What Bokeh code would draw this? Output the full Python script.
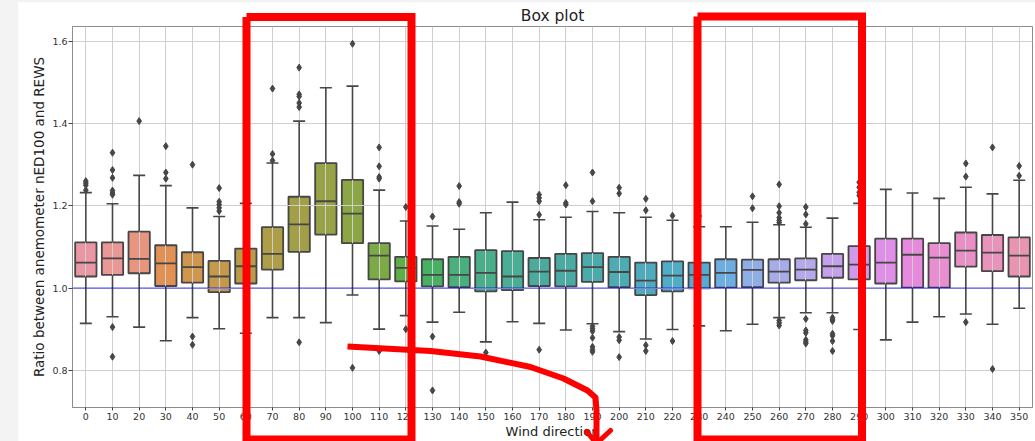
import math
import colorsys
from bokeh.plotting import figure
from bokeh.models import Range1d, FixedTicker, Span, ColumnDataSource
from bokeh.embed import file_html
from bokeh.resources import INLINE

# ---------------- data ----------------
directions = [0, 10, 20, 30, 40, 50, 60, 70, 80, 90, 100, 110, 120, 130, 140, 150, 160, 170,
              180, 190, 200, 210, 220, 230, 240, 250, 260, 270, 280, 290, 300, 310, 320, 330, 340, 350]
q1 = [1.028, 1.032, 1.036, 1.005, 1.013, 0.990, 1.011, 1.045, 1.088, 1.130, 1.109, 1.021,
      1.016, 1.004, 1.002, 0.992, 0.995, 1.005, 1.004, 1.015, 1.002, 0.983, 0.992, 0.999,
      1.001, 1.002, 1.013, 1.019, 1.025, 1.021, 1.011, 1.001, 1.001, 1.052, 1.041, 1.028]
median = [1.062, 1.072, 1.071, 1.060, 1.051, 1.028, 1.053, 1.083, 1.155, 1.211, 1.181, 1.079,
          1.049, 1.032, 1.032, 1.037, 1.028, 1.040, 1.042, 1.051, 1.039, 1.018, 1.030, 1.032,
          1.037, 1.044, 1.040, 1.045, 1.053, 1.057, 1.062, 1.081, 1.074, 1.091, 1.086, 1.079]
q3 = [1.111, 1.111, 1.137, 1.104, 1.087, 1.066, 1.096, 1.148, 1.222, 1.304, 1.263, 1.109,
      1.076, 1.070, 1.076, 1.092, 1.090, 1.073, 1.083, 1.085, 1.076, 1.062, 1.065, 1.062,
      1.070, 1.069, 1.070, 1.072, 1.083, 1.102, 1.120, 1.120, 1.109, 1.135, 1.129, 1.123]
whisker_low = [0.914, 0.930, 0.905, 0.872, 0.928, 0.901, 0.890, 0.928, 0.928, 0.916, 0.983, 0.900,
               0.933, 0.917, 0.941, 0.869, 0.918, 0.914, 0.898, 0.913, 0.894, 0.876, 0.899, 0.908,
               0.896, 0.912, 0.928, 0.940, 0.940, 0.899, 0.874, 0.917, 0.930, 0.937, 0.912, 0.951]
whisker_high = [1.232, 1.205, 1.274, 1.249, 1.195, 1.174, 1.206, 1.304, 1.406, 1.487, 1.491, 1.238,
                1.163, 1.151, 1.143, 1.183, 1.209, 1.166, 1.172, 1.186, 1.183, 1.172, 1.165, 1.149,
                1.149, 1.160, 1.154, 1.148, 1.170, 1.206, 1.240, 1.231, 1.218, 1.245, 1.229, 1.262]
outliers = [
    [1.260, 1.255, 1.250, 1.238],
    [1.329, 1.287, 1.268, 1.237, 1.231, 1.227, 0.905, 0.833],
    [1.406],
    [1.345, 1.281, 1.266],
    [1.300, 0.882, 0.862],
    [1.243, 1.210, 1.203, 1.195, 1.187],
    [],
    [1.485, 1.326, 1.310],
    [1.536, 1.471, 1.466, 1.450, 1.440, 0.868],
    [],
    [1.594, 0.806],
    [1.342, 1.296, 1.270, 1.266, 0.847],
    [1.197, 0.900],
    [1.174, 0.882, 0.751],
    [1.248, 1.209, 1.205],
    [0.843],
    [],
    [1.227, 1.219, 1.211, 1.178, 0.850],
    [1.250, 1.207, 1.203],
    [1.281, 1.211, 0.907, 0.901, 0.895, 0.879, 0.857, 0.850, 0.845],
    [1.244, 1.230, 0.881, 0.873, 0.832],
    [1.217, 1.189, 0.861, 0.847],
    [1.176, 0.871],
    [1.175],
    [],
    [1.223, 1.194],
    [1.252, 1.199, 1.183, 1.171, 1.164, 1.159, 0.921, 0.915, 0.909],
    [1.197, 1.179, 1.156, 0.925, 0.897, 0.891, 0.874, 0.869, 0.865],
    [0.928, 0.923, 0.920, 0.889, 0.884, 0.871, 0.847],
    [1.257, 1.245, 1.233, 1.225],
    [],
    [],
    [],
    [1.303, 1.271, 0.917],
    [1.342, 0.803],
    [1.297, 1.273],
]
reference_ratio = 1.0
y_ticks = [0.8, 1.0, 1.2, 1.4, 1.6]

# ---------------- seaborn-like husl palette ----------------
_M = [[3.2406, -1.5372, -0.4986], [-0.9689, 1.8758, 0.0415], [0.0557, -0.2040, 1.0570]]
_REF_U, _REF_V = 0.19784, 0.46834


def _max_chroma(L, H):
    hrad = math.radians(H)
    sinH, cosH = math.sin(hrad), math.cos(hrad)
    sub1 = (L + 16) ** 3 / 1560896.0
    sub2 = sub1 if sub1 > 0.008856 else L / 903.3
    result = float("inf")
    for m1, m2, m3 in _M:
        top = (0.99915 * m1 + 1.05122 * m2 + 1.14460 * m3) * sub2
        rbottom = 0.86330 * m3 - 0.17266 * m2
        lbottom = 0.12949 * m3 - 0.38848 * m1
        bottom = (rbottom * sinH + lbottom * cosH) * sub2
        for t in (0.0, 1.0):
            C = L * (top - 1.05122 * t) / (bottom + 0.17266 * sinH * t)
            if 0.0 < C < result:
                result = C
    return result


def _husl_to_rgb(H, S, L):
    C = _max_chroma(L, H) / 100.0 * S
    U, V = math.cos(math.radians(H)) * C, math.sin(math.radians(H)) * C
    t = (L + 16.0) / 116.0
    varY = t ** 3 if t ** 3 > 0.008856 else (116 * t - 16) / 903.3
    varU = U / (13.0 * L) + _REF_U
    varV = V / (13.0 * L) + _REF_V
    Y = varY
    X = -(9.0 * Y * varU) / ((varU - 4.0) * varV - varU * varV)
    Z = (9.0 * Y - 15.0 * varV * Y - varV * X) / (3.0 * varV)
    out = []
    for row in _M:
        c = row[0] * X + row[1] * Y + row[2] * Z
        c = 12.92 * c if c <= 0.0031308 else 1.055 * c ** (1 / 2.4) - 0.055
        out.append(min(max(c, 0.0), 1.0))
    return out


n = len(directions)
rgb = []
for k in range(n):
    h = ((k / n) + 0.01) % 1 * 359
    r, g, b = _husl_to_rgb(h, 0.9 * 99, 0.7 * 99)
    hh, ll, ss = colorsys.rgb_to_hls(r, g, b)
    rgb.append(colorsys.hls_to_rgb(hh, ll, ss * 0.75))
colors = ["#%02x%02x%02x" % tuple(int(round(c * 255)) for c in col) for col in rgb]
lum = min(colorsys.rgb_to_hls(*c)[1] for c in rgb) * 0.6
gray = "#%02x%02x%02x" % ((int(round(lum * 255)),) * 3)

# ---------------- figure ----------------
X0, X1 = -0.5, n - 0.5
Y0, Y1 = 0.7095, 1.636
FONT = "DejaVu Sans"
W, H = 1035, 441
BL, BR, BT, BB = 72, 3, 26, 34

p = figure(width=W, height=H, x_range=Range1d(X0, X1), y_range=Range1d(Y0, Y1),
           output_backend="svg", toolbar_location=None, title="Box plot",
           min_border_left=BL, min_border_right=BR, min_border_top=BT, min_border_bottom=BB)
p.background_fill_color = "white"
p.border_fill_color = "white"
p.outline_line_color = "#8c8c8c"
p.outline_line_width = 1

p.title.align = "center"
p.title.text_font = FONT
p.title.text_font_size = "15.5px"
p.title.text_font_style = "normal"
p.title.text_color = "#222222"
p.title.standoff = 3
p.title.offset = 0

idx = list(range(n))
p.xaxis.ticker = FixedTicker(ticks=idx)
p.xaxis.major_label_overrides = {i: str(d) for i, d in zip(idx, directions)}
p.yaxis.ticker = FixedTicker(ticks=y_ticks)
p.yaxis.major_label_overrides = {v: "%.1f" % v for v in y_ticks}
for ax in (p.xaxis[0], p.yaxis[0]):
    ax.major_label_text_font = FONT
    ax.major_label_text_font_size = "9.5px"
    ax.major_label_text_color = "#333333"
    ax.axis_label_text_font = FONT
    ax.axis_label_text_font_style = "normal"
    ax.axis_label_text_color = "#222222"
    ax.axis_line_color = "#8c8c8c"
    ax.major_tick_line_color = "#444444"
    ax.major_tick_in = 0
    ax.minor_tick_line_color = None
p.xaxis.axis_label = "Wind direction"
p.yaxis.axis_label = "Ratio between anemometer nED100 and REWS"
p.xaxis.axis_label_text_font_size = "13px"
p.yaxis.axis_label_text_font_size = "13.5px"
p.xaxis.major_tick_out = 3
p.xaxis.major_label_standoff = 2
p.xaxis.axis_label_standoff = 1
p.yaxis.major_tick_out = 4
p.yaxis.major_label_standoff = 1
p.yaxis.axis_label_standoff = 2

p.xgrid.grid_line_color = "#cfcfcf"
p.ygrid.grid_line_color = "#cfcfcf"
p.xgrid.grid_line_width = 1
p.ygrid.grid_line_width = 1

half = 0.4
cap = 0.225
box_src = ColumnDataSource(dict(
    x=idx, left=[i - half for i in idx], right=[i + half for i in idx],
    q1=q1, q3=q3, med=median, lo=whisker_low, hi=whisker_high, color=colors,
    cl=[i - cap for i in idx], cr=[i + cap for i in idx]))

boxes = p.quad(left="left", right="right", bottom="q1", top="q3", fill_color="color",
               line_color=gray, line_width=1.8, source=box_src)
boxes.level = "underlay"
p.segment(x0="x", y0="q3", x1="x", y1="hi", line_color=gray, line_width=1.6, source=box_src)
p.segment(x0="x", y0="q1", x1="x", y1="lo", line_color=gray, line_width=1.6, source=box_src)
p.segment(x0="cl", y0="hi", x1="cr", y1="hi", line_color=gray, line_width=1.6, source=box_src)
p.segment(x0="cl", y0="lo", x1="cr", y1="lo", line_color=gray, line_width=1.6, source=box_src)
p.segment(x0="left", y0="med", x1="right", y1="med", line_color=gray, line_width=1.8, source=box_src)

ox, oy = [], []
for i, vals in enumerate(outliers):
    for v in vals:
        ox.append(i)
        oy.append(v)
p.scatter(ox, oy, marker="diamond", size=7, fill_color=gray, line_color=gray)

p.add_layout(Span(location=reference_ratio, dimension="width", line_color="#0000ff",
                  line_width=1, line_alpha=0.75))

# ---------------- red hand-drawn highlights (canvas pixel positions) ----------------
FL, FR, FT, FB = BL, W - BR, BT, H - BB


def dx(px):
    return X0 + (px - FL) / (FR - FL) * (X1 - X0)


def dy(py):
    return Y1 - (py - FT) / (FB - FT) * (Y1 - Y0)


# light grey strip of the screenshot at left/top edge
strip = p.quad(left=[dx(-2), dx(-2)], right=[dx(17.7), dx(W + 2)],
               top=[dy(-2), dy(-2)], bottom=[dy(H + 2), dy(1.7)],
               fill_color="#f3f3f3", line_color=None)
strip.level = "overlay"

for (l, r, t, b) in [(246, 411, 16.5, 439), (697, 861.5, 16, 439)]:
    rr = p.line([dx(l), dx(r), dx(r), dx(l), dx(l)], [dy(t), dy(t), dy(b), dy(b), dy(t)],
                line_color="#ff0000", line_width=8, line_join="miter")
    rr.level = "overlay"

curve = [(347, 346), (430, 350.5), (480, 356), (530, 366.5), (563, 378), (587, 390),
         (595, 397), (596, 410), (596, 446)]
cr = p.line([dx(a) for a, _ in curve], [dy(b) for _, b in curve],
            line_color="#ff0000", line_width=6, line_join="round", line_cap="butt")
cr.level = "overlay"
head = p.line([dx(586), dx(596), dx(610)], [dy(431), dy(443), dy(430)], line_color="#ff0000",
              line_width=5, line_cap="round", line_join="miter")
head.level = "overlay"

open("out.html", "w").write(file_html(p, INLINE))
